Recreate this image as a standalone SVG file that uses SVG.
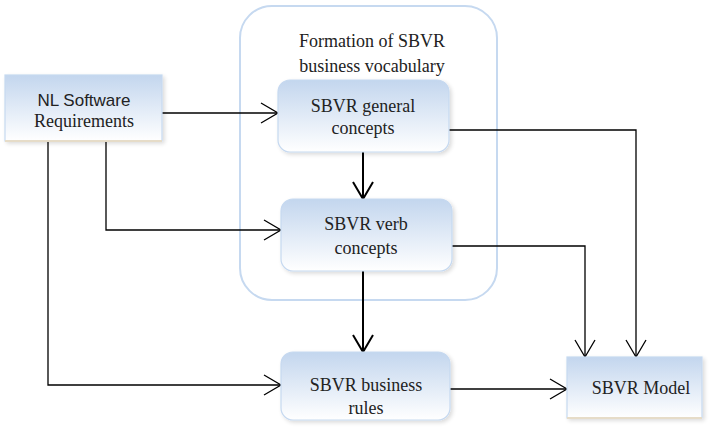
<svg xmlns="http://www.w3.org/2000/svg" width="712" height="427" viewBox="0 0 712 427">
<defs>
<linearGradient id="g" x1="0" y1="0" x2="0" y2="1">
<stop offset="0" stop-color="#c3d6ee"/>
<stop offset="1" stop-color="#ffffff"/>
</linearGradient>
<filter id="sh" x="-10%" y="-10%" width="130%" height="130%">
<feGaussianBlur in="SourceAlpha" stdDeviation="2"/>
<feOffset dx="2" dy="2"/>
<feComponentTransfer><feFuncA type="linear" slope="0.15"/></feComponentTransfer>
<feMerge><feMergeNode/><feMergeNode in="SourceGraphic"/></feMerge>
</filter>
<marker id="a" viewBox="0 0 20 22" refX="18" refY="11" markerWidth="20" markerHeight="22" markerUnits="userSpaceOnUse" orient="auto">
<path d="M1,1 L18,11 L1,21" fill="none" stroke="#000" stroke-width="1.3"/>
</marker>
<marker id="b" viewBox="0 0 20 22" refX="18" refY="11" markerWidth="20" markerHeight="22" markerUnits="userSpaceOnUse" orient="auto">
<path d="M1,1 L18,11 L1,21" fill="none" stroke="#000" stroke-width="2"/>
</marker>
</defs>
<style>
.box{fill:url(#g);stroke:#c6d9f0;stroke-width:1.2;filter:url(#sh)}
.serif{font-family:"Liberation Serif","Times New Roman",serif;font-size:18px;fill:#222;text-anchor:middle}
.sans{font-family:"Liberation Sans",Arial,sans-serif;font-size:17px;fill:#222;text-anchor:middle}
.c{fill:none;stroke:#000;stroke-width:1.3}
.c2{fill:none;stroke:#000;stroke-width:2}
</style>
<rect x="0" y="0" width="712" height="427" fill="#fff"/>
<g id="container">
<rect x="240" y="6" width="257" height="294" rx="32" fill="none" stroke="#c6d9f0" stroke-width="2"/>
<text class="serif" x="372" y="47">Formation of SBVR</text>
<text class="serif" x="372" y="72">business vocabulary</text>
</g>
<g id="connectors">
<path class="c" d="M162,113 H278" marker-end="url(#a)"/>
<path class="c" d="M106,141 V230 H281" marker-end="url(#a)"/>
<path class="c" d="M48,141 V385 H281" marker-end="url(#a)"/>
<path class="c2" d="M363,152 V199" marker-end="url(#b)"/>
<path class="c2" d="M363,271 V352" marker-end="url(#b)"/>
<path class="c" d="M449,130 H636 V357" marker-end="url(#a)"/>
<path class="c" d="M452,246 H585 V357" marker-end="url(#a)"/>
<path class="c" d="M450,389 H567" marker-end="url(#a)"/>
</g>
<g id="nl">
<rect class="box" x="5" y="75" width="157" height="66"/>
<line x1="5" y1="141" x2="162" y2="141" stroke="#e6dcc8" stroke-width="2"/>
<text class="sans" x="84" y="106">NL Software</text>
<text class="serif" x="84" y="127">Requirements</text>
</g>
<g id="general">
<rect class="box" x="278" y="80" width="171" height="72" rx="12"/>
<text class="serif" x="363" y="112">SBVR general</text>
<text class="serif" x="363" y="134">concepts</text>
</g>
<g id="verb">
<rect class="box" x="281" y="199" width="171" height="72" rx="12"/>
<text class="serif" x="366" y="230">SBVR verb</text>
<text class="serif" x="366" y="254">concepts</text>
</g>
<g id="rules">
<rect class="box" x="281" y="352" width="169" height="68" rx="12"/>
<text class="serif" x="366" y="391">SBVR business</text>
<text class="serif" x="366" y="414">rules</text>
</g>
<g id="model">
<rect class="box" x="567" y="357" width="135" height="61"/>
<line x1="567" y1="418" x2="702" y2="418" stroke="#e6dcc8" stroke-width="2"/>
<text class="serif" x="641" y="394">SBVR Model</text>
</g>
</svg>
